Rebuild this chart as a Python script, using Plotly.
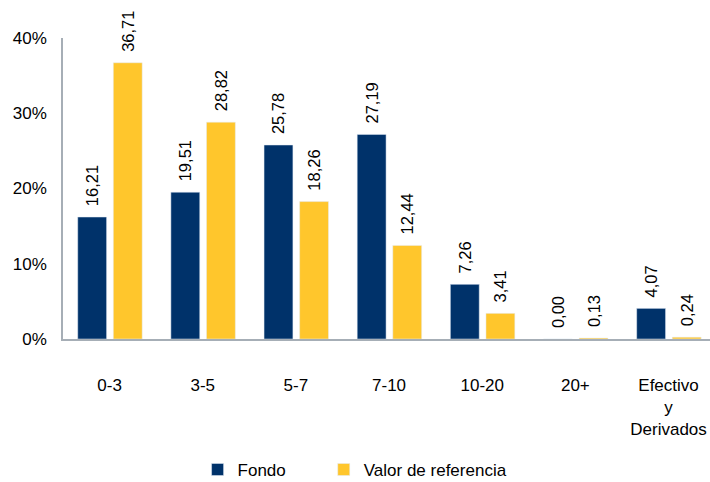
import plotly.graph_objects as go

categories = ["0-3", "3-5", "5-7", "7-10", "10-20", "20+", "Efectivo<br>y<br>Derivados"]
fondo = [16.21, 19.51, 25.78, 27.19, 7.26, 0.00, 4.07]
referencia = [36.71, 28.82, 18.26, 12.44, 3.41, 0.13, 0.24]
series_names = ["Fondo", "Valor de referencia"]
y_ticks = [0, 10, 20, 30, 40]

NAVY = "#00326A"
YELLOW = "#FFC62C"
FONT = "Liberation Sans, Arial, sans-serif"

def fmt(vals):
    return ["\u00a0\u2009" + f"{v:.2f}".replace(".", ",") for v in vals]

fig = go.Figure()
specs = [(series_names[0], fondo, NAVY, -0.342, "legend"),
         (series_names[1], referencia, YELLOW, 0.04, "legend2")]
for name, vals, col, off, leg in specs:
    fig.add_trace(go.Bar(
        x=categories, y=vals, name=name, marker_color=col,
        width=0.31, offset=off, legend=leg,
        text=fmt(vals), textposition="outside", textangle=-90,
        textfont=dict(family=FONT, size=16.5, color="#000000"),
        cliponaxis=False, constraintext="none",
    ))

leg_common = dict(orientation="h", xanchor="left", y=-0.435, yanchor="middle",
                  font=dict(family=FONT, size=17, color="#000000"),
                  bgcolor="rgba(0,0,0,0)", itemwidth=30)
fig.update_layout(
    width=710, height=482,
    margin=dict(l=63, r=0, t=38, b=143, autoexpand=False),
    paper_bgcolor="white", plot_bgcolor="white",
    barmode="overlay",
    font=dict(family=FONT, size=17, color="#000000"),
    showlegend=True,
    legend=dict(x=0.208, **leg_common),
    legend2=dict(x=0.403, **leg_common),
)
fig.update_yaxes(range=[0, 40], tickvals=y_ticks, ticktext=[f"{t}%" for t in y_ticks],
                 showgrid=False, showline=True, linecolor="#A6AEB6", linewidth=1.5,
                 ticks="", zeroline=False, ticklabelstandoff=11)
fig.update_xaxes(range=[-0.5, 6.445], showline=True, linecolor="#A6AEB6", linewidth=1.5,
                 ticks="", showgrid=False, ticklabelstandoff=30)

fig.write_html("out.html", config={"displayModeBar": False},
               post_script="document.body.style.margin='0';document.body.style.padding='0';")
